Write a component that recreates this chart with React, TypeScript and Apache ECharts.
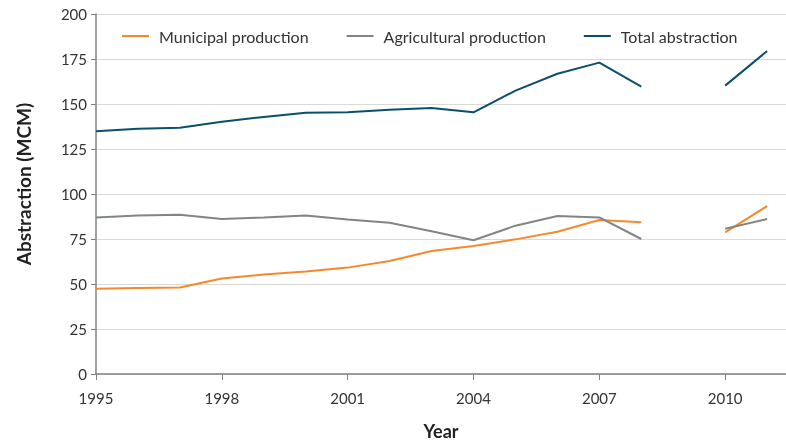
import React, { useEffect, useRef } from "react";
import * as echarts from "echarts";

const years = [1995, 1996, 1997, 1998, 1999, 2000, 2001, 2002, 2003, 2004, 2005, 2006, 2007, 2008, 2009, 2010, 2011];
const municipal = [47.4, 47.8, 48.0, 53.1, 55.3, 57.0, 59.1, 62.8, 68.3, 71.1, 74.8, 79.0, 85.6, 84.3, null, 78.7, 93.3];
const agricultural = [87.0, 88.0, 88.5, 86.1, 87.0, 88.1, 85.9, 84.0, 79.3, 74.3, 82.4, 87.8, 87.0, 75.0, null, 80.7, 86.1];
const total = [134.8, 136.2, 136.8, 140.2, 142.8, 145.2, 145.4, 146.8, 147.8, 145.4, 157.4, 166.8, 173.0, 159.6, null, 160.2, 179.4];
const xTicks = [1995, 1998, 2001, 2004, 2007, 2010];
const seriesNames = ["Municipal production", "Agricultural production", "Total abstraction"];
const colors = ["#F58A2C", "#808782", "#0C4F6B"];

const FONT = "Lato, 'Open Sans', sans-serif";

export default function App() {
  const ref = useRef<HTMLDivElement>(null);
  useEffect(() => {
    if (!ref.current) return;
    const chart = echarts.init(ref.current, undefined, { renderer: "svg" });
    const toPairs = (arr: (number | null)[]) => years.map((y, i) => [y, arr[i] === null ? "-" : arr[i]]);
    const all = [municipal, agricultural, total];
    chart.setOption({
      animation: false,
      color: colors,
      textStyle: { fontFamily: FONT },
      grid: { left: 96, right: 0, top: 14, bottom: 71, containLabel: false, outerBoundsMode: "none" },
      legend: {
        top: 23,
        left: 117,
        itemWidth: 27,
        itemHeight: 2,
        itemGap: 38,
        icon: "rect",
        textStyle: { fontSize: 16, color: "#333", fontFamily: FONT, padding: [0, 0, 0, 5] },
        data: seriesNames,
      },
      xAxis: {
        type: "value",
        min: 1995,
        max: 2011.45,
        interval: 3,
        name: "Year",
        nameLocation: "middle",
        nameGap: 48,
        nameTextStyle: { fontSize: 18, fontWeight: "bold", color: "#222", fontFamily: FONT },
        axisLine: { lineStyle: { color: "#7F8580", width: 1.5 } },
        axisTick: { show: true, length: 6, lineStyle: { color: "#7F8580" }, customValues: xTicks },
        axisLabel: { fontSize: 15, color: "#333", margin: 16, customValues: xTicks, formatter: (v: number) => String(v) },
        splitLine: { show: false },
      },
      yAxis: {
        type: "value",
        min: 0,
        max: 200,
        interval: 25,
        axisLine: { show: true, lineStyle: { color: "#7F8580", width: 1.5 } },
        axisTick: { show: true, length: 5, lineStyle: { color: "#7F8580" } },
        axisLabel: { fontSize: 15, color: "#333", margin: 9 },
        splitLine: { show: true, lineStyle: { color: "#D9D9D5", width: 1 } },
      },
      graphic: [
        {
          type: "text",
          x: 23,
          y: 184,
          rotation: Math.PI / 2,
          style: {
            text: "Abstraction (MCM)",
            fontSize: 19,
            fontWeight: "bold",
            fill: "#222",
            fontFamily: FONT,
            align: "center",
            verticalAlign: "middle",
          },
        },
      ],
      series: seriesNames.map((name, i) => ({
        name,
        type: "line",
        data: toPairs(all[i]),
        showSymbol: false,
        symbol: "none",
        connectNulls: false,
        lineStyle: { width: 2, color: colors[i] },
        itemStyle: { color: colors[i] },
      })),
    });
    return () => chart.dispose();
  }, []);
  return <div ref={ref} style={{ position: "fixed", left: 0, top: 0, width: 786, height: 445 }} />;
}
